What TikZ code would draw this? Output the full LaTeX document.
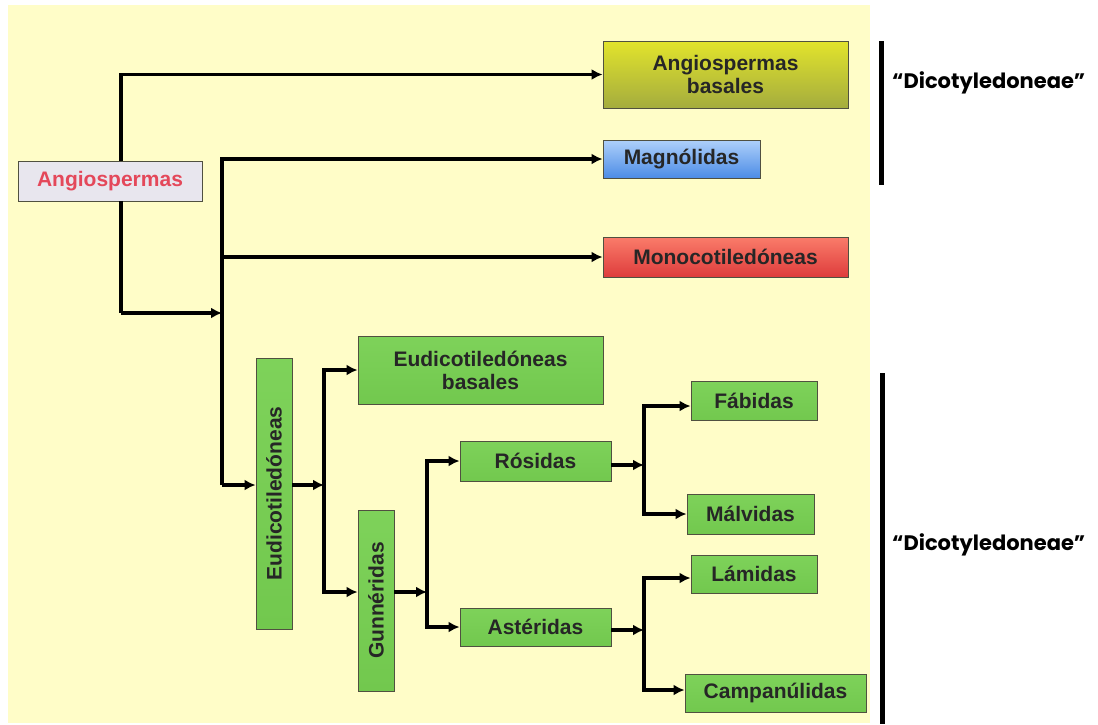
\documentclass[tikz,border=0pt]{standalone}
\usepackage{fontspec}
\setmainfont{Liberation Sans}
\newfontfamily\comicfont{Poppins}
\usetikzlibrary{arrows.meta}
\definecolor{cream}{HTML}{FFFDC8}
\definecolor{boxline}{HTML}{505040}
\definecolor{angred}{HTML}{E4485A}
\definecolor{anggray}{HTML}{E8E6EE}
\definecolor{grn}{HTML}{72C84E}
\definecolor{grntop}{HTML}{7ED25A}
\definecolor{ylwtop}{HTML}{E2E42C}
\definecolor{ylwbot}{HTML}{A4AC3E}
\definecolor{blutop}{HTML}{AED0FA}
\definecolor{blubot}{HTML}{4C8CE6}
\definecolor{redtop}{HTML}{FA7C6A}
\definecolor{redbot}{HTML}{DE3C3C}
\tikzset{
  x=1pt, y=-1pt,
  box/.style={draw=boxline, line width=0.9pt, inner sep=0pt, align=center,
    font=\fontsize{21}{23}\selectfont\bfseries, text=black!85},
  gbox/.style={box, top color=grntop, bottom color=grn},
  arr/.style={line width=3.5pt, -{Latex[length=11pt,width=11pt]}},
  ln/.style={line width=3.5pt},
  bar/.style={line width=5pt},
  dico/.style={font=\comicfont\fontsize{21}{24}\selectfont\bfseries, anchor=west, inner sep=0pt}
}
\begin{document}
\begin{tikzpicture}
\useasboundingbox (0,0) rectangle (1098,724);
\fill[white] (0,0) rectangle (1098,724);
\fill[cream] (8,5) rectangle (870,723);

% nodes
\node[box, fill=anggray, text=angred, minimum width=184pt, minimum height=40pt] (angio) at (110,181) {Angiospermas};
\node[box, top color=ylwtop, bottom color=ylwbot, minimum width=245pt, minimum height=67pt] (angbas) at (725.5,74.5) {Angiospermas\\basales};
\node[box, top color=blutop, bottom color=blubot, minimum width=157pt, minimum height=38pt] (magn) at (681.5,159) {Magnólidas};
\node[box, top color=redtop, bottom color=redbot, minimum width=245pt, minimum height=40pt] (mono) at (725.5,257) {Monocotiledóneas};
\node[gbox, minimum width=36pt, minimum height=271pt] (eud) at (274,493.5) {\rotatebox{90}{Eudicotiledóneas}};
\node[gbox, minimum width=245pt, minimum height=68pt] (eudbas) at (480.5,370) {Eudicotiledóneas\\basales};
\node[gbox, minimum width=36pt, minimum height=181pt] (gunn) at (376,600.5) {\rotatebox{90}{Gunnéridas}};
\node[gbox, minimum width=151pt, minimum height=40pt] (ros) at (535.5,461) {Rósidas};
\node[gbox, minimum width=151pt, minimum height=38pt] (ast) at (535.5,627) {Astéridas};
\node[gbox, minimum width=126pt, minimum height=39pt] (fab) at (754,401) {Fábidas};
\node[gbox, minimum width=127pt, minimum height=40pt] (malv) at (750.5,514) {Málvidas};
\node[gbox, minimum width=126pt, minimum height=38pt] (lam) at (754,574) {Lámidas};
\node[gbox, minimum width=181pt, minimum height=38pt] (camp) at (775.5,693) {Campanúlidas};

% junction coordinates
\coordinate (j1) at (121,313);
\coordinate (j2) at (222,485);
\coordinate (j3) at (324,485);
\coordinate (j4) at (427,592);
\coordinate (j5) at (644,465);
\coordinate (j6) at (644,630);

% connectors
\draw[ln] (angio.south -| j1) -- (j1);
\draw[arr] (angio.north -| j1) |- (angbas.west);
\draw[arr] (j1) -- (j1 -| j2);
\draw[arr] (j2) |- (magn.west);
\draw[arr] (j2 |- mono.west) -- (mono.west);
\draw[arr] (j2) -- (eud.west |- j2);
\draw[arr] (eud.east |- j3) -- (j3);
\draw[arr] (j3) |- (eudbas.west);
\draw[arr] (j3) |- (gunn.west |- j4);
\draw[arr] (gunn.east |- j4) -- (j4);
\draw[arr] (j4) |- (ros.west);
\draw[arr] (j4) |- (ast.west);
\draw[arr] (ros.east |- j5) -- (j5);
\draw[arr] (j5) |- (fab.west |- 0,406);
\draw[arr] (j5) |- (malv.west);
\draw[arr] (ast.east |- j6) -- (j6);
\draw[arr] (j6) |- (lam.west |- 0,578);
\draw[arr] (j6) |- (camp.west |- 0,690);

% brackets
\coordinate (b1t) at (881,41);
\coordinate (b1b) at (881,185);
\coordinate (b2t) at (882,373);
\coordinate (b2b) at (882,724);
\draw[bar] (b1t) -- (b1b);
\draw[bar] (b2t) -- (b2b);
\node[dico] (d1) at (892,83) {“Dicotyledoneae”};
\node[dico] (d2) at (892,545) {“Dicotyledoneae”};
\end{tikzpicture}
\end{document}
